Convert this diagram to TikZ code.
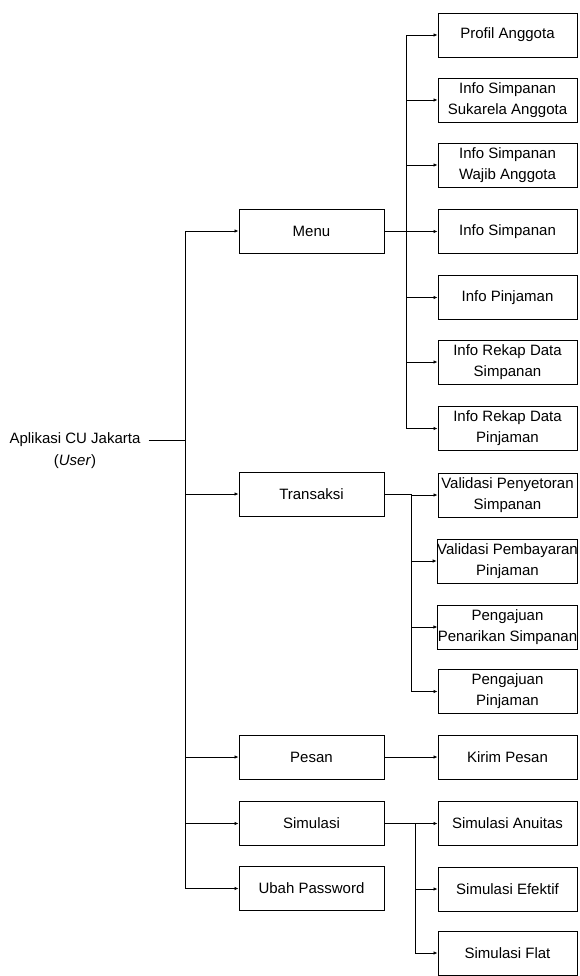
\documentclass[tikz,border=0pt]{standalone}
\usepackage{fontspec}
\setmainfont{Liberation Sans}
\usetikzlibrary{arrows.meta}
\tikzset{
  box/.style={draw, line width=0.9pt, minimum width=145pt, minimum height=44pt,
    inner sep=0pt, align=center, font=\fontsize{15}{21}\selectfont},
  subbox/.style={box, minimum width=139pt},
  link/.style={line width=0.8pt, -{Latex[length=4pt,width=3.5pt]}},
}
\begin{document}
\begin{tikzpicture}[x=1pt,y=-1pt]
\useasboundingbox (0,0) rectangle (579,976);
% root
\node[inner xsep=8pt, inner ysep=1pt, font=\fontsize{15}{21}\selectfont] (root) at (75,440) {Aplikasi CU Jakarta};
\node[inner sep=1pt, font=\fontsize{15}{21}\selectfont] (rootsub) at (75,462) {(\textit{User})};
\coordinate (trunk) at (185,440);
% level one
\node[box] (menu) at (311.5,231) {Menu};
\node[box] (transaksi) at (311.5,494) {Transaksi};
\node[box] (pesan) at (311.5,757) {Pesan};
\node[box] (simulasi) at (311.5,823.5) {Simulasi};
\node[box] (ubah) at (311.5,888.5) {Ubah Password};
% menu items
\node[subbox] (profil) at (507.5,35) {Profil Anggota};
\node[subbox] (sukarela) at (507.5,100) {Info Simpanan\\Sukarela Anggota};
\node[subbox] (wajib) at (507.5,165) {Info Simpanan\\Wajib Anggota};
\node[subbox] (simpanan) at (507.5,231.5) {Info Simpanan};
\node[subbox] (pinjaman) at (507.5,297.5) {Info Pinjaman};
\node[subbox] (rekapsimp) at (507.5,362) {Info Rekap Data\\Simpanan};
\node[subbox] (rekappinj) at (507.5,428.5) {Info Rekap Data\\Pinjaman};
% transaksi items
\node[subbox] (setor) at (507.5,495) {Validasi Penyetoran\\Simpanan};
\node[subbox] (bayar) at (507.5,561) {Validasi Pembayaran\\Pinjaman};
\node[subbox] (tarik) at (507.5,627) {Pengajuan\\Penarikan Simpanan};
\node[subbox] (ajupinj) at (507.5,691.5) {Pengajuan\\Pinjaman};
% pesan, simulasi items
\node[subbox] (kirim) at (507.5,757) {Kirim Pesan};
\node[subbox] (anuitas) at (507.5,823.5) {Simulasi Anuitas};
\node[subbox] (efektif) at (507.5,889) {Simulasi Efektif};
\node[subbox] (flat) at (507.5,953) {Simulasi Flat};
% connectors
\draw[line width=0.8pt] (root.east) -- (trunk);
\draw[link] (trunk) |- (menu.west);
\draw[link] (trunk) |- (transaksi.west);
\draw[link] (trunk) |- (pesan.west);
\draw[link] (trunk) |- (simulasi.west);
\draw[link] (trunk) |- (ubah.west);
\draw[link] (menu.east) -- ++(22,0) |- (profil.west);
\draw[link] (menu.east) -- ++(22,0) |- (sukarela.west);
\draw[link] (menu.east) -- ++(22,0) |- (wajib.west);
\draw[link] (menu.east) -- ++(22,0) |- (simpanan.west);
\draw[link] (menu.east) -- ++(22,0) |- (pinjaman.west);
\draw[link] (menu.east) -- ++(22,0) |- (rekapsimp.west);
\draw[link] (menu.east) -- ++(22,0) |- (rekappinj.west);
\draw[link] (transaksi.east) -- ++(27,0) |- (setor.west);
\draw[link] (transaksi.east) -- ++(27,0) |- (bayar.west);
\draw[link] (transaksi.east) -- ++(27,0) |- (tarik.west);
\draw[link] (transaksi.east) -- ++(27,0) |- (ajupinj.west);
\draw[link] (pesan.east) -- (kirim.west);
\draw[link] (simulasi.east) -- ++(31,0) |- (anuitas.west);
\draw[link] (simulasi.east) -- ++(31,0) |- (efektif.west);
\draw[link] (simulasi.east) -- ++(31,0) |- (flat.west);
\end{tikzpicture}
\end{document}
